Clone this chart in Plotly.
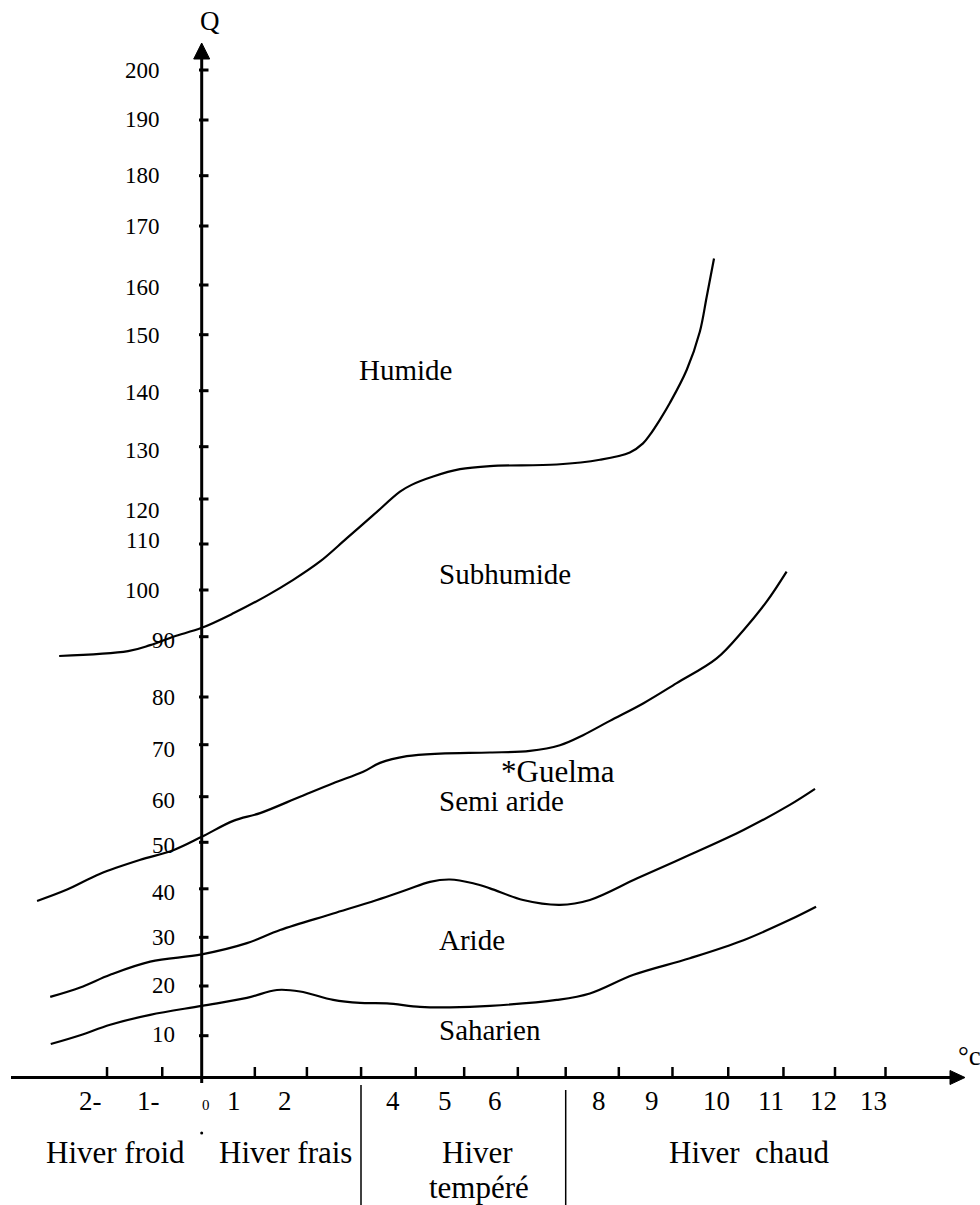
import numpy as np
import plotly.graph_objects as go

# ---------------- data ----------------
# Hand-drawn Q scale: Q value -> distance of its tick above the T axis (drawing units)
q_scale = [0, 10, 20, 30, 40, 50, 60, 70, 80, 90, 100, 110, 120, 130, 140, 150, 160, 170, 180, 190, 200]
q_scale_pos = [0, 41.8, 91.5, 140.2, 188.7, 235.2, 280.8, 332.8, 380.5, 440.8, 487.5, 533.5,
               578.5, 630.8, 686.8, 742.8, 792.5, 851.5, 901.8, 957.5, 1007.5]
q_tick_labels = [str(q) for q in q_scale[1:]]
q_label_pos = [43.5, 92, 140, 185.5, 232.2, 277.5, 328.5, 380, 436.7, 487, 536.7, 567.5,
               626.7, 685.2, 742, 790, 850.8, 901.7, 958, 1006.7]

# Temperature (m, °C) axis
t_tick_vals = [-1.8, -0.75, 1.01, 2.0, 3.03, 4.07, 4.99, 6.01, 6.92, 7.93, 8.95, 10.01, 11.06, 12.04, 13.0]
t_label_text = ["2-", "1-", "0", "1", "2", "4", "5", "6", "8", "9", "10", "11", "12", "13"]
t_label_pos = [-2.12, -1.01, 0.09, 0.62, 1.58, 3.64, 4.63, 5.58, 7.55, 8.56, 9.79, 10.83, 11.83, 12.77]

# Boundary curves (T in °C, Q)
humide_T = [-2.71, -1.40, -0.98, -0.54, 0, 0.60, 1.24, 1.74, 2.25, 2.76, 3.26, 3.77, 3.99, 4.40,
            4.91, 5.48, 6.75, 7.57, 8.14, 8.39, 8.52, 8.71, 8.90, 9.22, 9.47, 9.60, 9.74]
humide_Q = [86.8, 87.6, 88.6, 90.0, 91.9, 95.0, 98.8, 102.2, 106.2, 111.3, 116.4, 121.4, 122.7, 124.3,
            125.7, 126.3, 126.6, 127.5, 128.9, 130.6, 132.1, 134.8, 137.8, 143.7, 150.6, 157.6, 164.5]

semiaride_T = [-3.13, -2.57, -1.94, -1.18, -0.54, 0, 0.60, 1.11, 1.87, 2.50, 3.07, 3.39, 3.90, 4.53,
               5.48, 6.24, 6.81, 7.25, 7.76, 8.40, 9.03, 9.79, 10.30, 10.74, 11.12]
semiaride_Q = [37.5, 39.8, 43.2, 46.2, 48.3, 51.2, 54.7, 56.4, 60.0, 62.6, 64.8, 66.5, 67.8, 68.3,
               68.5, 68.8, 69.9, 72.0, 75.0, 78.7, 82.3, 86.4, 91.4, 97.5, 104.0]

aride_T = [-2.88, -2.31, -1.74, -0.98, 0, 0.86, 1.49, 2.50, 3.33, 3.90, 4.34, 4.72, 5.16, 5.48,
           6.11, 6.81, 7.38, 8.27, 9.28, 10.30, 11.18, 11.66]
aride_Q = [17.8, 19.7, 22.3, 25.0, 26.5, 28.8, 31.5, 34.9, 37.7, 39.8, 41.5, 42.0, 41.2, 40.1,
           37.7, 36.7, 37.7, 42.2, 47.3, 52.7, 58.2, 61.5]

saharien_T = [-2.87, -2.31, -1.74, -0.98, 0, 0.86, 1.43, 1.87, 2.50, 3.01, 3.52, 4.15, 4.72, 5.48,
              6.75, 7.38, 8.21, 9.28, 10.30, 11.18, 11.68]
saharien_Q = [8.0, 10.1, 12.2, 14.2, 16.0, 17.6, 19.2, 18.9, 17.2, 16.6, 16.5, 15.8, 15.7, 16.0,
              17.2, 18.5, 22.3, 25.7, 29.4, 33.6, 36.3]

zone_labels = ["Humide", "Subhumide", "Semi aride", "Aride", "Saharien"]
station_label = "*Guelma"
winter_labels = ["Hiver froid", "Hiver frais", "Hiver", "tempéré", "Hiver\u00a0 chaud"]

# ---------------- layout helpers ----------------
W, H = 980, 1205
X0_PX, PX_PER_DEG, AXIS_PX = 201.7, 52.6, 1077.5
FONT = "Liberation Serif, Times New Roman, serif"


def tx(px):
    return (px - X0_PX) / PX_PER_DEG


def uy(py):
    return AXIS_PX - py


def qpos(q):
    return np.interp(np.asarray(q, dtype=float), q_scale, q_scale_pos)


fig = go.Figure()

for T, Q in [(humide_T, humide_Q), (semiaride_T, semiaride_Q), (aride_T, aride_Q), (saharien_T, saharien_Q)]:
    fig.add_trace(go.Scatter(x=T, y=qpos(Q), mode="lines",
                             line=dict(color="black", width=2.2, shape="spline", smoothing=1.0),
                             hoverinfo="skip", showlegend=False))

# small dot under the origin
fig.add_trace(go.Scatter(x=[0], y=[uy(1133)], mode="markers",
                         marker=dict(color="black", size=3), hoverinfo="skip", showlegend=False))

shapes = []
# axes
shapes.append(dict(type="line", x0=0, x1=0, y0=uy(1083), y1=uy(57), line=dict(color="black", width=3)))
shapes.append(dict(type="path", path=f"M {tx(193.7)},{uy(59)} L {tx(209.7)},{uy(59)} L 0,{uy(43)} Z",
                   fillcolor="black", line=dict(color="black", width=1)))
shapes.append(dict(type="line", x0=tx(11), x1=tx(952), y0=0, y1=0, line=dict(color="black", width=3)))
shapes.append(dict(type="path", path=f"M {tx(950)},{uy(1070.5)} L {tx(950)},{uy(1084.5)} L {tx(965)},0 Z",
                   fillcolor="black", line=dict(color="black", width=1)))
# Q ticks
for p in q_scale_pos[1:]:
    shapes.append(dict(type="line", x0=tx(199), x1=tx(208.5), y0=p, y1=p, line=dict(color="black", width=3)))
# T ticks
for t in t_tick_vals:
    shapes.append(dict(type="line", x0=t, x1=t, y0=0, y1=10.5, line=dict(color="black", width=2.5)))
# winter-type separators
shapes.append(dict(type="line", x0=tx(361), x1=tx(361), y0=uy(1085), y1=uy(1205), line=dict(color="black", width=1.5)))
shapes.append(dict(type="line", x0=tx(565.7), x1=tx(565.7), y0=uy(1090), y1=uy(1205), line=dict(color="black", width=1.5)))

ann = []


def text(s, x, y, size, xanchor="center"):
    ann.append(dict(text=s, x=x, y=y, xref="x", yref="y", showarrow=False, xanchor=xanchor,
                    yanchor="middle", font=dict(family=FONT, size=size, color="black")))


for lab, p, q in zip(q_tick_labels, q_label_pos, q_scale[1:]):
    text(lab, tx(161.5) if q >= 100 else tx(176.5), p, 23, "right")

for lab, t in zip(t_label_text, t_label_pos):
    if lab == "0":
        text(lab, t, uy(1105), 15)
    else:
        text(lab, t, uy(1100.5), 27)

text("Q", tx(209.5), uy(20.5), 27)
text("°c", tx(956), uy(1055.5), 27, "left")

text(zone_labels[0], tx(405), uy(370), 29)
text(zone_labels[1], tx(436.5), uy(574), 29, "left")
text(station_label, tx(499), uy(771), 31, "left")
text(zone_labels[2], tx(436.5), uy(801), 29, "left")
text(zone_labels[3], tx(436.5), uy(940), 29, "left")
text(zone_labels[4], tx(436.5), uy(1030), 29, "left")

text(winter_labels[0], tx(115), uy(1152.5), 31)
text(winter_labels[1], tx(285.5), uy(1152.5), 31)
text(winter_labels[2], tx(477.5), uy(1152.5), 31)
text(winter_labels[3], tx(479), uy(1187.5), 31)
text(winter_labels[4], tx(749.5), uy(1152), 31)

fig.update_layout(
    width=W, height=H, margin=dict(l=0, r=0, t=0, b=0),
    paper_bgcolor="white", plot_bgcolor="white",
    xaxis=dict(range=[tx(0), tx(W)], visible=False, fixedrange=True),
    yaxis=dict(range=[uy(H), uy(0)], visible=False, fixedrange=True),
    shapes=shapes, annotations=ann, showlegend=False,
)

# remove the browser's default page margin so the figure fills the window exactly
fig.write_html("out.html",
               config={"displayModeBar": False, "staticPlot": True},
               post_script="document.body.style.margin='0';document.body.style.overflow='hidden';")
